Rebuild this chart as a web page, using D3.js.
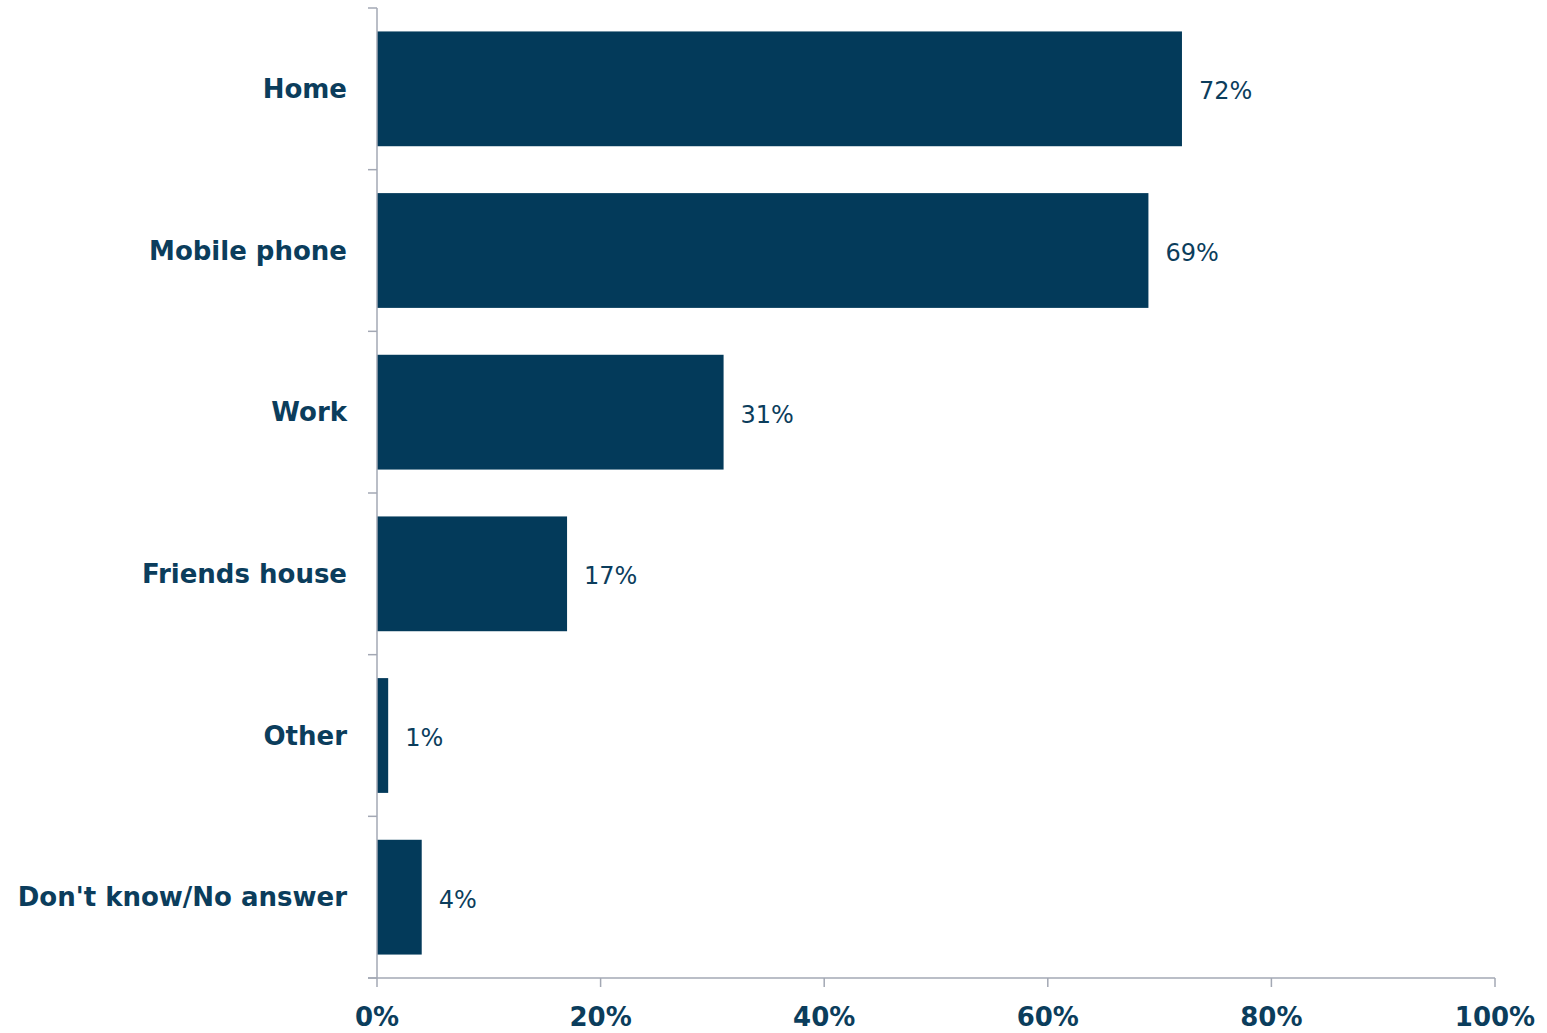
<!DOCTYPE html>
<html><head><meta charset="utf-8">
<script src="https://cdn.jsdelivr.net/npm/d3@7"></script>
<style>body{margin:0;background:#fff}svg{display:block}</style>
</head><body>
<script>
const categories = ["Home","Mobile phone","Work","Friends house","Other","Don't know/No answer"];
const values = [72,69,31,17,1,4];
const xTicks = [0,20,40,60,80,100];
const tickLabels = ["0%","20%","40%","60%","80%","100%"];

(function(){
const W=1547,H=1033;
const mLeft=377,mRight=1495,mTop=8,mBottom=978;
const barColor="#033a5a", textColor="#0b3d5c", axisColor="#a3a8b4";
const font="'DejaVu Sans', Verdana, sans-serif";

const svg=d3.select("body").append("svg").attr("width",W).attr("height",H);
const x=d3.scaleLinear().domain([0,100]).range([mLeft,mRight]);
const y=d3.scaleBand().domain(categories).range([mTop,mBottom]).paddingInner(0.29).paddingOuter(0.145);

svg.selectAll("rect.bar").data(values).join("rect").attr("class","bar")
  .attr("x",x(0)).attr("y",(d,i)=>y(categories[i]))
  .attr("width",d=>x(d)-x(0)).attr("height",y.bandwidth()).attr("fill",barColor);

svg.selectAll("text.val").data(values).join("text").attr("class","val")
  .attr("x",d=>x(d)+17).attr("y",(d,i)=>y(categories[i])+y.bandwidth()/2+2)
  .attr("dy","0.35em").attr("font-family",font).attr("font-size",24).attr("fill",textColor)
  .text(d=>d+"%");

const bounds=d3.range(categories.length+1).map(i=>mTop+i*(mBottom-mTop)/categories.length);
svg.append("line").attr("x1",mLeft).attr("x2",mLeft).attr("y1",mTop).attr("y2",mBottom).attr("stroke",axisColor).attr("stroke-width",1.5);
svg.selectAll("line.yt").data(bounds).join("line").attr("class","yt")
  .attr("x1",mLeft-9).attr("x2",mLeft).attr("y1",d=>d).attr("y2",d=>d).attr("stroke",axisColor).attr("stroke-width",1.5);

svg.append("line").attr("x1",mLeft-9).attr("x2",mRight).attr("y1",mBottom).attr("y2",mBottom).attr("stroke",axisColor).attr("stroke-width",1.5);
svg.selectAll("line.xt").data(xTicks).join("line").attr("class","xt")
  .attr("x1",d=>x(d)).attr("x2",d=>x(d)).attr("y1",mBottom).attr("y2",mBottom+9).attr("stroke",axisColor).attr("stroke-width",1.5);
svg.selectAll("text.xl").data(xTicks).join("text").attr("class","xl")
  .attr("x",d=>x(d)).attr("y",1026).attr("text-anchor","middle")
  .attr("font-family",font).attr("font-weight","bold").attr("font-size",26).attr("fill",textColor)
  .text((d,i)=>tickLabels[i]);

svg.selectAll("text.cat").data(categories).join("text").attr("class","cat")
  .attr("x",mLeft-30).attr("y",d=>y(d)+y.bandwidth()/2).attr("dy","0.35em").attr("text-anchor","end")
  .attr("font-family",font).attr("font-weight","bold").attr("font-size",26).attr("fill",textColor)
  .text(d=>d);
})();
</script>
</body></html>
